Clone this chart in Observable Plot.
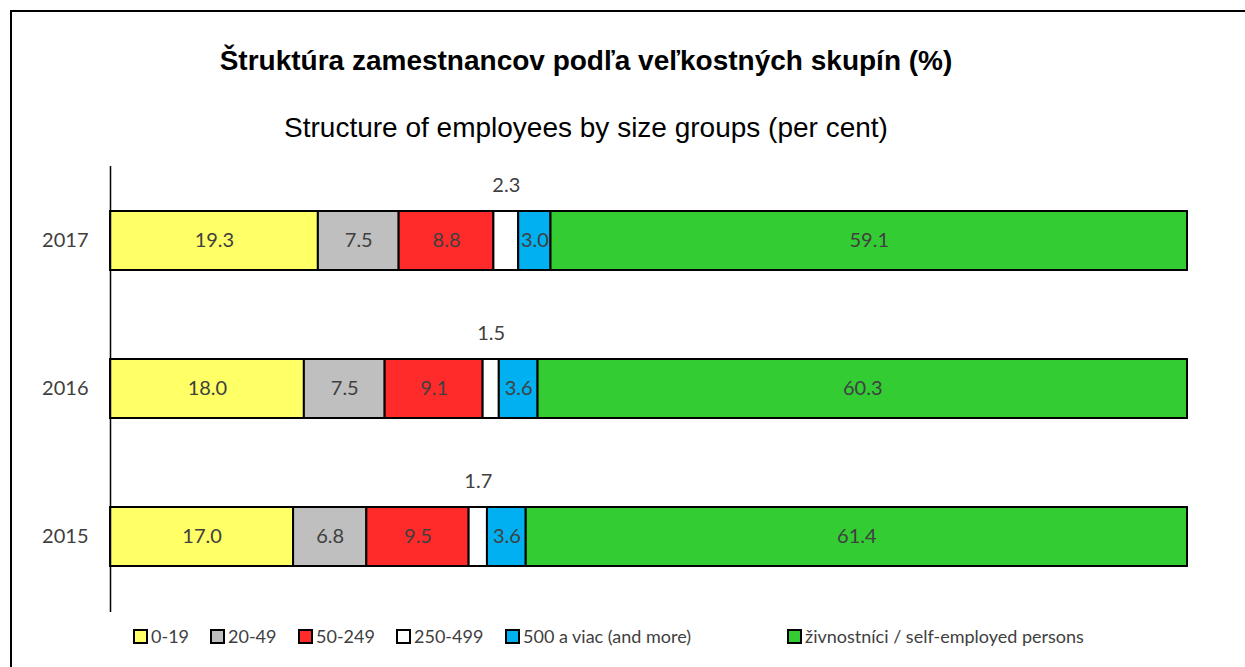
<!DOCTYPE html>
<html>
<head>
<meta charset="utf-8">
<script src="https://cdn.jsdelivr.net/npm/d3@7"></script>
<script src="https://cdn.jsdelivr.net/npm/@observablehq/plot@0.6"></script>
<style>
  html, body { margin: 0; padding: 0; background: #fff; overflow: hidden; }
  #page { position: relative; width: 1245px; height: 667px; overflow: hidden; }
  #frame { position: absolute; left: 10px; top: 10px; width: 1235px; height: 657px; border-top: 2px solid #000; border-left: 2px solid #000; box-sizing: border-box; }
  #title { position: absolute; left: 0; width: 1172px; top: 44px; text-align: center; font-family: "Liberation Sans", Arial, sans-serif; font-weight: bold; font-size: 28px; line-height: 34px; color: #000; }
  #subtitle { position: absolute; left: 0; width: 1172px; top: 111px; text-align: center; font-family: "Liberation Sans", Arial, sans-serif; font-size: 28px; line-height: 34px; color: #000; }
  #chart { position: absolute; left: 0; top: 166px; }
  #legend { position: absolute; top: 624px; left: 0; width: 1245px; height: 26px; font-family: Lato, "Open Sans", sans-serif; font-size: 18px; color: #404040; }
  .item { position: absolute; top: 0; display: flex; align-items: center; height: 24px; white-space: nowrap; }
  .sw { width: 11px; height: 11px; border: 2px solid #000; margin-right: 3px; }
</style>
</head>
<body>
<div id="page">
  <div id="frame"></div>
  <div id="title">Štruktúra zamestnancov podľa veľkostných skupín (%)</div>
  <div id="subtitle">Structure of employees by size groups (per cent)</div>
  <div id="chart"></div>
  <div id="legend"></div>
</div>
<script>
const years = ["2017", "2016", "2015"];
const groups = ["0-19", "20-49", "50-249", "250-499", "500 a viac (and more)", "živnostníci / self-employed persons"];
const colors = ["#FFFF66", "#BFBFBF", "#FF2A2A", "#FFFFFF", "#00B0F0", "#33CC33"];
const values2017 = [19.3, 7.5, 8.8, 2.3, 3.0, 59.1];
const values2016 = [18.0, 7.5, 9.1, 1.5, 3.6, 60.3];
const values2015 = [17.0, 6.8, 9.5, 1.7, 3.6, 61.4];
const legendX = [133, 210, 298, 396, 505, 787];

const valuesByYear = {"2017": values2017, "2016": values2016, "2015": values2015};
const data = [];
for (const y of years) {
  valuesByYear[y].forEach((v, i) => data.push({year: y, group: groups[i], value: v}));
}
const fmt = d3.format(".1f");
const small = "250-499";

const chart = Plot.plot({
  width: 1245,
  height: 446,
  marginLeft: 110,
  marginRight: 58,
  marginTop: 0,
  marginBottom: 0,
  style: {fontFamily: "Lato, 'Open Sans', sans-serif", fontSize: "20px", color: "#404040", background: "transparent"},
  x: {domain: [0, 100], axis: null},
  y: {domain: years, paddingInner: 0.6, paddingOuter: 0.3, label: null, tickSize: 0, tickPadding: 22},
  color: {domain: groups, range: colors},
  marks: [
    Plot.barX(data, Plot.stackX({x: "value", y: "year", fill: "group", stroke: "#000", strokeWidth: 2})),
    Plot.text(data, Plot.stackX({x: "value", y: "year", text: d => d.group === small ? "" : fmt(d.value), fill: "#404040", fontSize: 20})),
    Plot.text(data, Plot.stackX({x: "value", y: "year", text: d => d.group === small ? fmt(d.value) : "", fill: "#404040", fontSize: 20, dy: -55})),
    Plot.ruleX([0], {stroke: "#000", strokeWidth: 1.5})
  ]
});
document.getElementById("chart").appendChild(chart);

const legend = document.getElementById("legend");
groups.forEach((g, i) => {
  const item = document.createElement("div");
  item.className = "item";
  item.style.left = legendX[i] + "px";
  const sw = document.createElement("div");
  sw.className = "sw";
  sw.style.background = colors[i];
  const label = document.createElement("span");
  label.textContent = g;
  item.appendChild(sw);
  item.appendChild(label);
  legend.appendChild(item);
});
</script>
</body>
</html>
